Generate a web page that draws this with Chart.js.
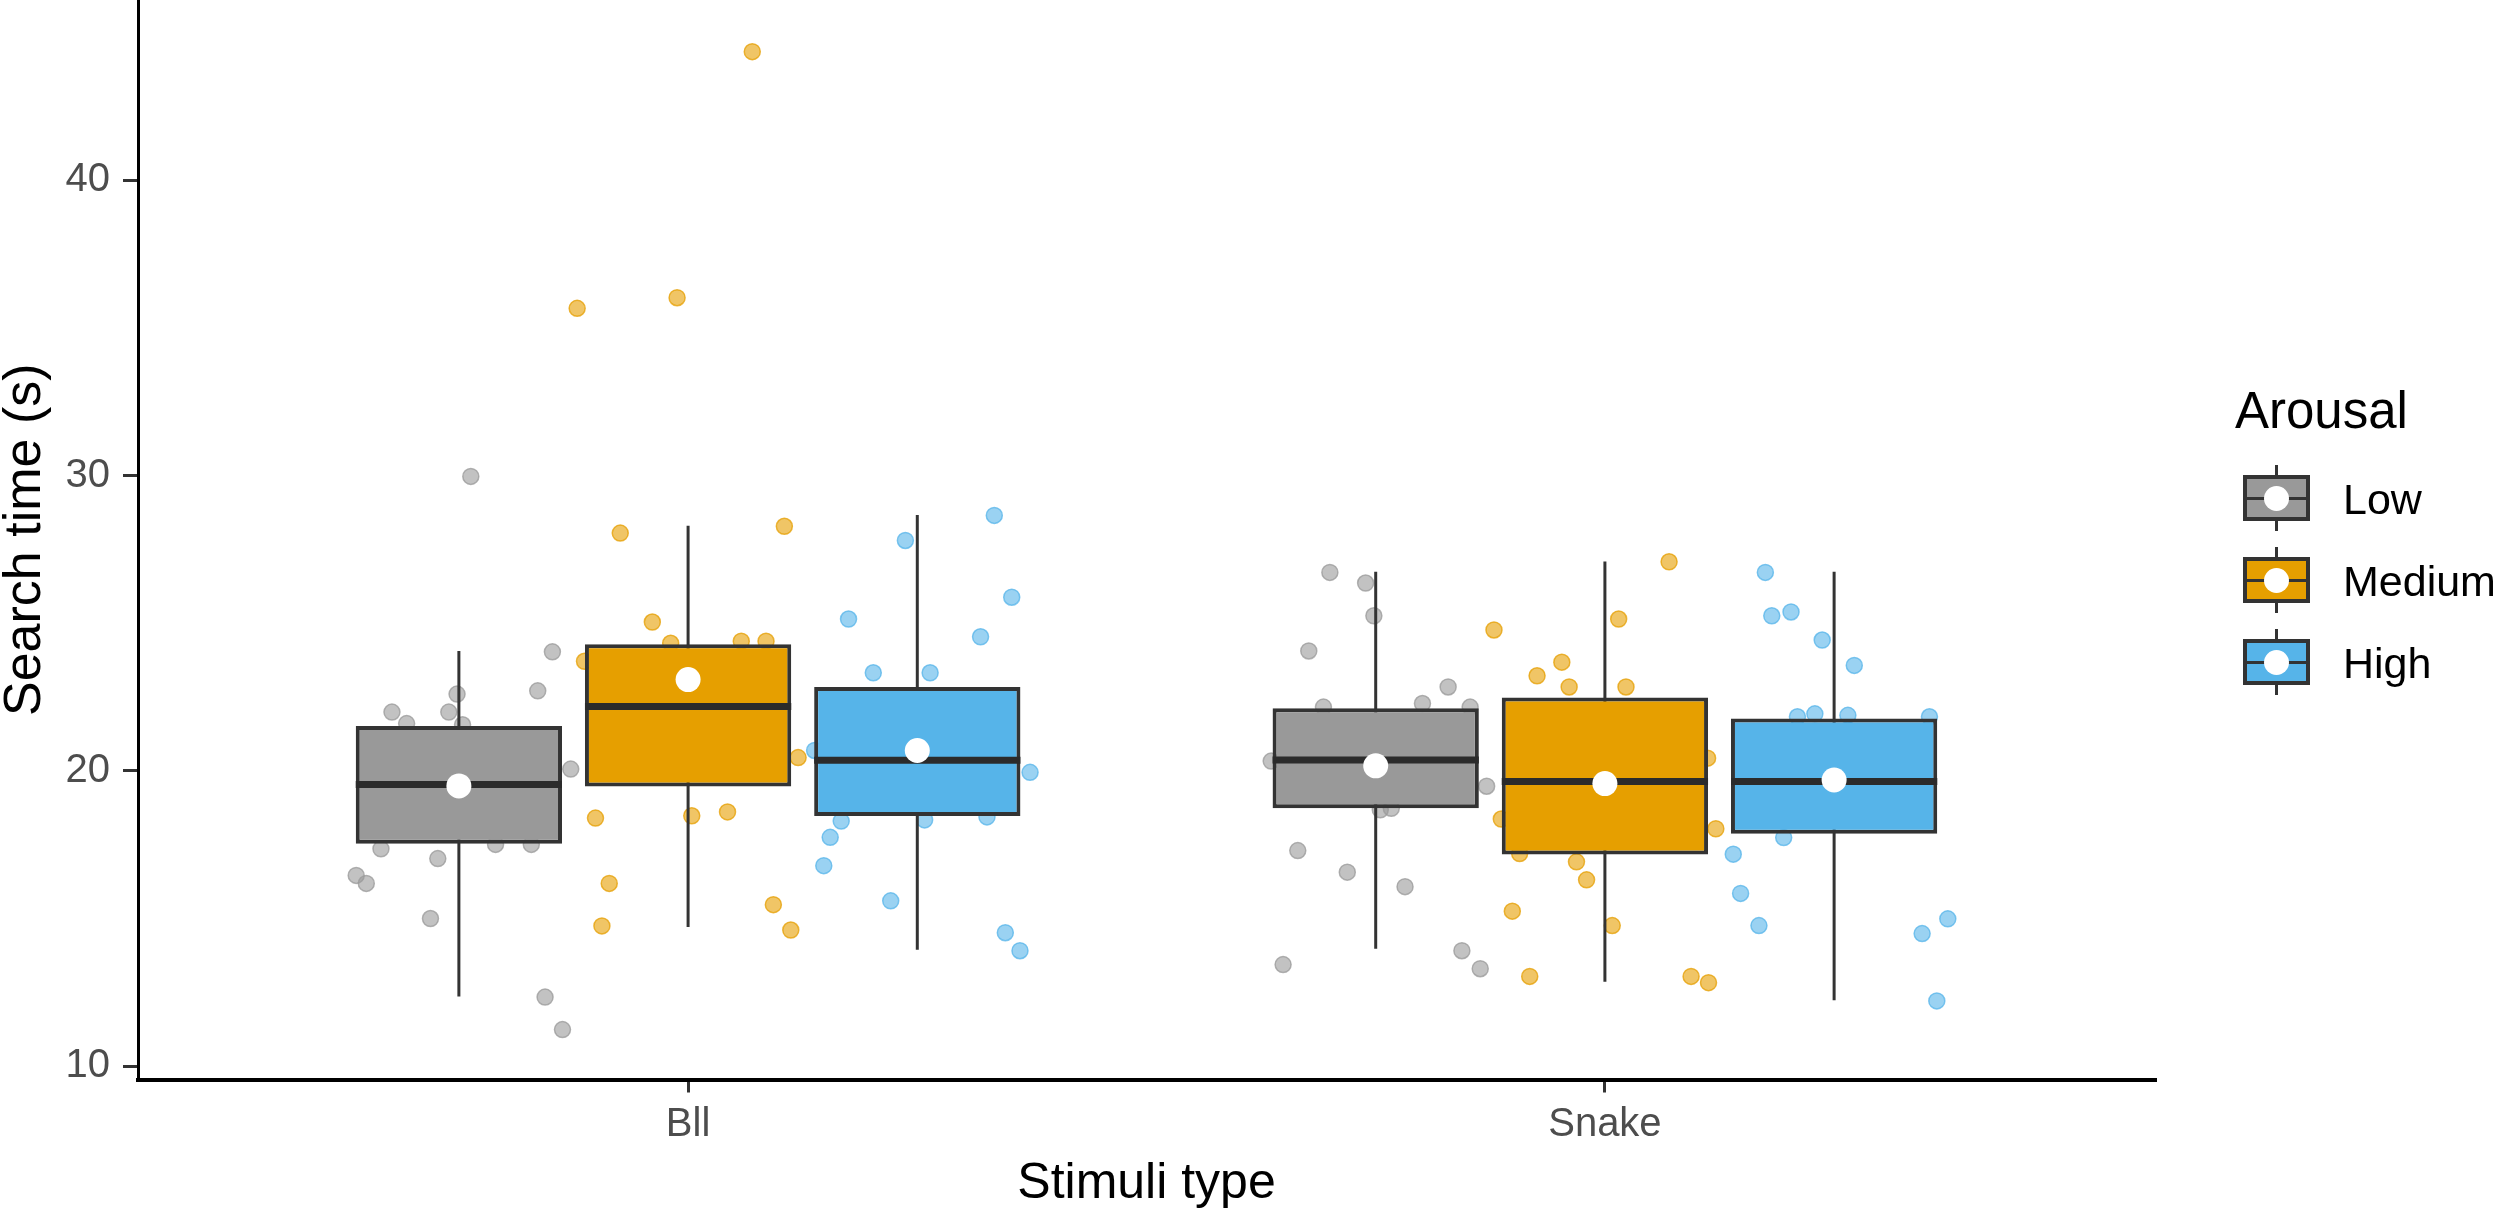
<!DOCTYPE html>
<html>
<head>
<meta charset="utf-8">
<script src="https://cdn.jsdelivr.net/npm/chart.js@4.4.1/dist/chart.umd.min.js"></script>
<style>
  html, body { margin: 0; padding: 0; background: #ffffff; }
  #wrap { position: relative; width: 2500px; height: 1214px; overflow: hidden; }
  #c { position: absolute; left: 0; top: 0; width: 2500px; height: 1214px; }
  .lg { position: absolute; font-family: "Liberation Sans", Arial, sans-serif; line-height: 1; white-space: nowrap; color: #000; }
  .key { position: absolute; box-sizing: border-box; border: 4px solid #333333; }
  .kmed { position: absolute; left: 0; right: 0; top: 50%; height: 3px; margin-top: -1.5px; background: #333333; }
  .kdot { position: absolute; left: 50%; top: 50%; width: 25px; height: 25px; margin: -12.5px 0 0 -12.5px; border-radius: 50%; background: #ffffff; }
  .kwh { position: absolute; width: 3px; background: #333333; }
</style>
</head>
<body>
<div id="wrap">
  <canvas id="c" width="2500" height="1214"></canvas>
</div>
<script>
// ---------------- data ----------------
const stimuli = ['Bll', 'Snake'];
const arousalLevels = ['Low', 'Medium', 'High'];
const arousalColors = ['#999999', '#E69F00', '#56B4E9'];
const yTicks = [10, 20, 30, 40];

// box statistics, rows = arousal level (Low, Medium, High), columns = stimuli (Bll, Snake)
const whiskerMin = [[12.36, 13.98], [14.71, 12.86], [13.94, 12.23]];
const q1         = [[17.53, 18.73], [19.47, 17.17], [18.47, 17.87]];
const median     = [[19.54, 20.37], [22.18, 19.64], [20.36, 19.64]];
const q3         = [[21.52, 22.12], [24.29, 22.48], [22.84, 21.77]];
const whiskerMax = [[24.06, 26.74], [28.30, 27.09], [28.66, 26.74]];
const meanValue  = [[19.49, 20.17], [23.09, 19.57], [20.69, 19.69]];

// jittered observations: [stimulus index, jitter (category units), search time]
const lowPoints = [
  [0, 0.013, 29.97], [0, 0.102, 24.03], [0, -0.002, 22.60], [0, 0.086, 22.71], [0, -0.073, 21.99],
  [0, -0.011, 21.99], [0, -0.057, 21.60], [0, 0.004, 21.56], [0, 0.122, 20.06], [0, -0.085, 17.36],
  [0, 0.040, 17.51], [0, 0.079, 17.51], [0, -0.023, 17.03], [0, -0.112, 16.46], [0, -0.101, 16.19],
  [0, -0.031, 15.00], [0, 0.094, 12.34], [0, 0.113, 11.24],
  [1, -0.050, 26.72], [1, -0.011, 26.36], [1, -0.002, 25.25], [1, -0.073, 24.06], [1, 0.079, 22.84],
  [1, -0.057, 22.16], [1, 0.051, 22.28], [1, 0.103, 22.16], [1, -0.114, 20.33], [1, 0.086, 20.35],
  [1, 0.121, 19.48], [1, 0.005, 18.68], [1, 0.017, 18.73], [1, -0.085, 17.30], [1, -0.031, 16.57],
  [1, 0.032, 16.08], [1, -0.101, 13.44], [1, 0.094, 13.91], [1, 0.114, 13.30]
];
const mediumPoints = [
  [0, -0.121, 35.66], [0, -0.012, 36.02], [0, 0.070, 44.35], [0, -0.074, 28.05], [0, 0.105, 28.28],
  [0, -0.039, 25.04], [0, -0.019, 24.32], [0, 0.058, 24.39], [0, 0.085, 24.39], [0, -0.113, 23.71],
  [0, 0.120, 20.45], [0, -0.101, 18.40], [0, 0.004, 18.48], [0, 0.043, 18.61], [0, -0.086, 16.19],
  [0, -0.094, 14.75], [0, 0.093, 15.47], [0, 0.112, 14.61],
  [1, 0.070, 27.08], [1, 0.015, 25.14], [1, -0.121, 24.77], [1, -0.047, 23.68], [1, -0.074, 23.22],
  [1, -0.039, 22.84], [1, 0.023, 22.84], [1, 0.112, 20.43], [1, -0.113, 18.37], [1, 0.121, 18.04],
  [1, -0.093, 17.20], [1, -0.031, 16.92], [1, -0.020, 16.31], [1, -0.101, 15.25], [1, 0.008, 14.76],
  [1, -0.082, 13.04], [1, 0.094, 13.04], [1, 0.113, 12.83]
];
const highPoints = [
  [0, -0.013, 27.80], [0, 0.084, 28.65], [0, 0.103, 25.88], [0, -0.075, 25.14], [0, 0.069, 24.54],
  [0, -0.048, 23.32], [0, 0.014, 23.32], [0, -0.112, 20.69], [0, 0.123, 19.95], [0, -0.083, 18.30],
  [0, 0.008, 18.34], [0, 0.076, 18.44], [0, -0.095, 17.75], [0, -0.102, 16.79], [0, -0.029, 15.60],
  [0, 0.096, 14.52], [0, 0.112, 13.91],
  [1, -0.075, 26.72], [1, -0.068, 25.25], [1, -0.047, 25.38], [1, -0.013, 24.43], [1, 0.022, 23.57],
  [1, -0.021, 21.93], [1, 0.015, 21.88], [1, 0.104, 21.83], [1, -0.040, 21.83], [1, -0.055, 17.74],
  [1, -0.110, 17.18], [1, -0.102, 15.85], [1, -0.082, 14.76], [1, 0.124, 14.99], [1, 0.096, 14.49],
  [1, 0.112, 12.21]
];

// ---------------- layout / style constants ----------------
const FONT = "'Liberation Sans', Arial, sans-serif";
const dodge = [-0.25, 0, 0.25];      // dodge offset of each arousal level (category units)
const boxWidth = 0.225;              // box width (category units)
const pointSets = [lowPoints, mediumPoints, highPoints];

function rgba(hex, a) {
  const n = parseInt(hex.slice(1), 16);
  return `rgba(${(n >> 16) & 255},${(n >> 8) & 255},${n & 255},${a})`;
}

const datasets = [];
arousalLevels.forEach((lvl, a) => {
  // jittered raw observations (under the boxes)
  datasets.push({
    type: 'scatter', label: lvl + ' observations', order: 5,
    data: pointSets[a].map(([s, j, v]) => ({ x: s + 1 + dodge[a] + j, y: v })),
    backgroundColor: rgba(arousalColors[a], 0.6),
    borderColor: rgba(arousalColors[a], 0.75),
    borderWidth: 1.5, pointRadius: 8, pointHoverRadius: 8
  });
  // whiskers
  datasets.push({
    type: 'line', label: lvl + ' whiskers', order: 4,
    data: stimuli.flatMap((_, s) => {
      const x = s + 1 + dodge[a];
      return [{ x, y: whiskerMin[a][s] }, { x, y: whiskerMax[a][s] }, { x, y: null }];
    }),
    borderColor: '#333333', borderWidth: 3, pointRadius: 0, fill: false, spanGaps: false
  });
  // boxes (Q1..Q3)
  datasets.push({
    type: 'bar', label: lvl, order: 3, grouped: false,
    data: stimuli.map((_, s) => ({ x: s + 1 + dodge[a], y: [q1[a][s], q3[a][s]] })),
    backgroundColor: arousalColors[a], borderColor: '#333333', borderWidth: 4,
    borderSkipped: false, barPercentage: 0.9, categoryPercentage: 1.0
  });
  // medians
  datasets.push({
    type: 'line', label: lvl + ' median', order: 2,
    data: stimuli.flatMap((_, s) => {
      const c = s + 1 + dodge[a];
      return [{ x: c - boxWidth / 2, y: median[a][s] }, { x: c + boxWidth / 2, y: median[a][s] }, { x: c, y: null }];
    }),
    borderColor: '#2b2b2b', borderWidth: 7, borderCapStyle: 'butt', pointRadius: 0, fill: false, spanGaps: false
  });
});
// means (white dots on top)
datasets.push({
  type: 'scatter', label: 'mean', order: 1,
  data: arousalLevels.flatMap((_, a) => stimuli.map((_, s) => ({ x: s + 1 + dodge[a], y: meanValue[a][s] }))),
  backgroundColor: '#ffffff', borderColor: '#ffffff', borderWidth: 0, pointRadius: 12.5, pointHoverRadius: 12.5
});

Chart.defaults.font.family = FONT;

new Chart(document.getElementById('c'), {
  type: 'scatter',
  data: { datasets },
  options: {
    responsive: false, animation: false, events: [], devicePixelRatio: 1,
    layout: { autoPadding: false, padding: { left: 0, right: 345, top: 0, bottom: 0 } },
    plugins: { legend: { display: false }, tooltip: { enabled: false } },
    scales: {
      x: {
        type: 'linear', min: 0.4, max: 2.6, offset: false,
        afterBuildTicks: (s) => { s.ticks = stimuli.map((_, i) => ({ value: i + 1 })); },
        ticks: {
          callback: (v) => stimuli[Math.round(v) - 1] || '',
          font: { size: 40 }, color: '#4D4D4D', padding: 8, maxRotation: 0, autoSkip: false
        },
        grid: { display: true, offset: false, drawOnChartArea: false, drawTicks: true, tickLength: 13, color: '#333333', lineWidth: 3 },
        border: { display: true, color: '#000000', width: 4 },
        title: { display: true, text: 'Stimuli type', color: '#000000', font: { size: 50, lineHeight: 1.2 }, padding: { top: 0, bottom: 0 } },
        afterFit: (s) => { s.height = 134.5; s.paddingLeft = 0; s.paddingRight = 0; }
      },
      y: {
        type: 'linear', min: 9.55, max: 46.1,
        afterBuildTicks: (s) => { s.ticks = yTicks.map(v => ({ value: v })); },
        ticks: { font: { size: 40 }, color: '#4D4D4D', padding: 13 },
        grid: { display: true, offset: false, drawOnChartArea: false, drawTicks: true, tickLength: 15, color: '#333333', lineWidth: 3 },
        border: { display: true, color: '#000000', width: 3 },
        title: { display: true, text: 'Search time (s)', color: '#000000', font: { size: 52, lineHeight: 0.9 }, padding: { top: 2, bottom: 0 } },
        afterFit: (s) => { s.width = 138; s.paddingTop = 0; s.paddingBottom = 0; }
      }
    }
  }
});

// ---------------- legend (HTML, real text) ----------------
const wrap = document.getElementById('wrap');
function addText(txt, left, baseline, size) {
  const d = document.createElement('div');
  d.className = 'lg';
  d.textContent = txt;
  d.style.fontSize = size + 'px';
  d.style.left = left + 'px';
  d.style.top = (baseline - 0.8465 * size) + 'px';
  wrap.appendChild(d);
}
addText('Arousal', 2235, 428, 51);
const keyTop0 = 475, keyStep = 82, keyH = 46, keyLeft = 2243, keyW = 67;
arousalLevels.forEach((lvl, a) => {
  const top = keyTop0 + a * keyStep;
  const wt = document.createElement('div');
  wt.className = 'kwh';
  wt.style.left = (keyLeft + keyW / 2 - 1.5) + 'px';
  wt.style.top = (top - 10) + 'px';
  wt.style.height = (keyH + 20) + 'px';
  wrap.appendChild(wt);
  const k = document.createElement('div');
  k.className = 'key';
  k.style.left = keyLeft + 'px';
  k.style.top = top + 'px';
  k.style.width = keyW + 'px';
  k.style.height = keyH + 'px';
  k.style.background = arousalColors[a];
  k.innerHTML = '<div class="kmed"></div><div class="kdot"></div>';
  wrap.appendChild(k);
  addText(lvl, 2343, top + keyH / 2 + 16, 43);
});
</script>
</body>
</html>
